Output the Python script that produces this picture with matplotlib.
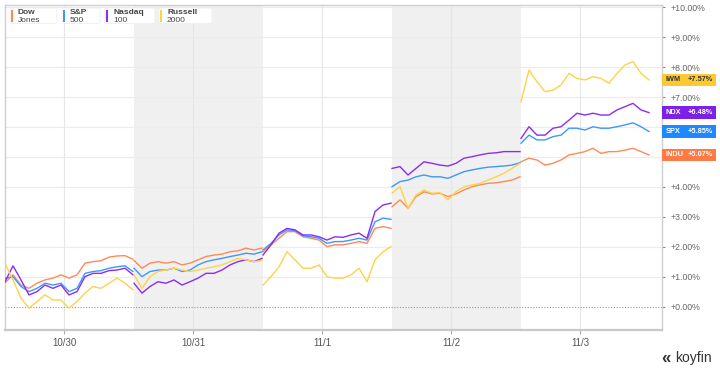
import matplotlib
matplotlib.use('Agg')
import matplotlib.pyplot as plt
from matplotlib.patches import Rectangle, FancyBboxPatch
from matplotlib import transforms
import numpy as np

plt.rcParams['font.family'] = ['Liberation Sans', 'DejaVu Sans']

# ---- data: % change, 17 readings per trading day ----
days = ['10/30', '10/31', '11/1', '11/2', '11/3']

dow = [
    [0.80, 1.07, 0.73, 0.62, 0.79, 0.90, 0.96, 1.07, 0.96, 1.07, 1.46, 1.51, 1.54, 1.66, 1.70, 1.71, 1.59],
    [1.55, 1.29, 1.46, 1.51, 1.46, 1.51, 1.40, 1.46, 1.57, 1.68, 1.73, 1.76, 1.84, 1.87, 1.96, 1.90, 1.96],
    [1.84, 2.07, 2.29, 2.51, 2.51, 2.34, 2.29, 2.23, 2.01, 2.07, 2.07, 2.12, 2.18, 2.12, 2.62, 2.68, 2.62],
    [3.34, 3.57, 3.29, 3.68, 3.84, 3.77, 3.79, 3.68, 3.77, 3.90, 4.01, 4.07, 4.12, 4.14, 4.18, 4.23, 4.34],
    [4.84, 4.96, 4.90, 4.73, 4.79, 4.90, 5.07, 5.12, 5.18, 5.29, 5.12, 5.18, 5.18, 5.23, 5.29, 5.18, 5.07],
]
spx = [
    [0.95, 1.01, 0.68, 0.51, 0.62, 0.79, 0.73, 0.79, 0.51, 0.62, 1.12, 1.18, 1.21, 1.29, 1.34, 1.37, 1.18],
    [1.29, 1.01, 1.18, 1.23, 1.23, 1.29, 1.18, 1.23, 1.40, 1.51, 1.57, 1.62, 1.68, 1.73, 1.79, 1.76, 1.84],
    [1.90, 2.12, 2.40, 2.57, 2.54, 2.37, 2.34, 2.29, 2.12, 2.18, 2.18, 2.23, 2.29, 2.23, 2.84, 2.96, 2.92],
    [4.01, 4.18, 4.23, 4.34, 4.40, 4.34, 4.34, 4.29, 4.40, 4.51, 4.57, 4.62, 4.66, 4.68, 4.70, 4.73, 4.81],
    [5.46, 5.73, 5.57, 5.57, 5.68, 5.73, 5.96, 5.96, 5.90, 6.01, 5.96, 5.96, 6.01, 6.07, 6.14, 6.01, 5.85],
]
ndx = [
    [0.84, 1.37, 0.90, 0.40, 0.51, 0.73, 0.62, 0.73, 0.40, 0.51, 1.01, 1.12, 1.12, 1.21, 1.23, 1.29, 1.07],
    [0.79, 0.46, 0.68, 0.84, 0.79, 0.90, 0.73, 0.84, 0.96, 1.12, 1.12, 1.23, 1.40, 1.51, 1.57, 1.51, 1.62],
    [1.73, 2.07, 2.46, 2.62, 2.57, 2.40, 2.40, 2.34, 2.23, 2.34, 2.32, 2.40, 2.46, 2.29, 3.18, 3.40, 3.46],
    [4.62, 4.68, 4.40, 4.62, 4.84, 4.79, 4.73, 4.70, 4.79, 4.96, 5.01, 5.07, 5.12, 5.14, 5.18, 5.18, 5.18],
    [5.62, 6.01, 5.73, 5.73, 5.96, 6.01, 6.23, 6.46, 6.40, 6.46, 6.40, 6.40, 6.57, 6.68, 6.79, 6.57, 6.48],
]
iwm = [
    [1.45, 0.90, 0.29, -0.04, 0.18, 0.40, 0.23, 0.23, -0.04, 0.18, 0.46, 0.68, 0.62, 0.79, 0.96, 0.79, 0.57],
    [1.07, 0.62, 1.01, 1.18, 1.23, 1.29, 1.23, 1.18, 1.23, 1.29, 1.34, 1.40, 1.51, 1.62, 1.57, 1.51, 1.55],
    [0.73, 1.01, 1.34, 1.84, 1.57, 1.29, 1.29, 1.40, 1.01, 0.96, 0.96, 1.07, 1.29, 0.84, 1.57, 1.84, 2.01],
    [3.79, 4.01, 3.29, 3.73, 3.90, 3.79, 3.81, 3.57, 3.84, 4.01, 4.07, 4.12, 4.23, 4.34, 4.46, 4.62, 4.79],
    [6.84, 7.90, 7.51, 7.18, 7.23, 7.40, 7.79, 7.62, 7.57, 7.68, 7.62, 7.46, 7.79, 8.07, 8.18, 7.79, 7.57],
]

series = [
    ('Dow\nJones', 'INDU', dow, '#ff8a55', '#ff7a45', 'white'),
    ('S&P\n500', 'SPX', spx, '#3d97ff', '#1e88ff', 'white'),
    ('Nasdaq\n100', 'NDX', ndx, '#8c2cf0', '#7c22e8', 'white'),
    ('Russell\n2000', 'IWM', iwm, '#fdd349', '#fbc934', '#333333'),
]

W, H = 720, 372
fig = plt.figure(figsize=(W / 100, H / 100), dpi=100)


def fx(px):
    return px / W


def fy(py):
    return 1 - py / H


ax = fig.add_axes([fx(5), fy(330), fx(662) - fx(5), fy(5) - fy(330)])

step = 8 / 129.0
slot = np.arange(17) * step

# alternate day shading
for d in (1, 3):
    ax.axvspan(d, d + 1, color='#f0f0f0', lw=0, zorder=0)

for name, tick, vals, lc, bc, tc in series:
    for d in range(len(days)):
        ax.plot(d + slot, vals[d], color=lc, lw=1.0, zorder=3)

ax.set_xlim(0, (662 - 5) / 129.0)
ax.set_ylim(-0.77, 10.07)

ax.set_yticks(range(0, 11))
ax.set_yticklabels(['+%.2f%%' % v for v in range(0, 11)])
ax.yaxis.tick_right()
ax.tick_params(axis='y', length=2, width=0.8, color='#888888', labelsize=6.3,
               labelcolor='#666666', pad=4)
ax.set_xticks([d + 59 / 129.0 for d in range(len(days))])
ax.set_xticklabels(days)
ax.tick_params(axis='x', length=3, width=0.8, color='#aaaaaa', labelsize=7,
               labelcolor='#555555', pad=3)

for v in range(1, 11):
    ax.axhline(v, color='#ececec', lw=0.8, zorder=1)
for d in range(len(days)):
    ax.axvline(d + 59 / 129.0, color='#e6e6e6', lw=0.8, zorder=1)
ax.axhline(0, color='#999999', lw=0.8, ls=(0, (1, 1.5)), zorder=2)

for s in ax.spines.values():
    s.set_color('#d0d0d0')
    s.set_linewidth(1.0)
ax.spines['bottom'].set_linewidth(1.6)
ax.spines['bottom'].set_color('#c8c8c8')

# last value labels on the right
blend = transforms.blended_transform_factory(ax.transAxes, ax.transData)
bw = 54 / 657.0
for name, tick, vals, lc, bc, tc in series:
    last = vals[-1][-1]
    ax.add_patch(Rectangle((1.0, last - 0.21), bw, 0.42, transform=blend,
                           facecolor=bc, edgecolor='none', clip_on=False, zorder=5))
    ax.text(1.0 + 4 / 657.0, last, tick, transform=blend, ha='left', va='center',
            fontsize=5.3, fontweight='bold', color=tc, zorder=6)
    ax.text(1.0 + 51 / 657.0, last, '+%.2f%%' % last, transform=blend, ha='right',
            va='center', fontsize=5.3, fontweight='bold', color=tc, zorder=6)

# legend boxes
boxes = [(10, 57), (62, 100), (105, 155), (159, 212)]
for (x0, x1), (name, tick, vals, lc, bc, tc) in zip(boxes, series):
    fig.patches.append(FancyBboxPatch((fx(x0), fy(23.5)), fx(x1) - fx(x0), fy(8) - fy(23.5),
                                      boxstyle='round,pad=0,rounding_size=0.004',
                                      transform=fig.transFigure, facecolor='white',
                                      edgecolor='#eeeeee', lw=0.6, zorder=10))
    fig.patches.append(Rectangle((fx(x0 + 1.3), fy(22)), fx(1.6), fy(10) - fy(22),
                                 transform=fig.transFigure, facecolor=lc,
                                 edgecolor='none', zorder=11))
    first, second = name.split('\n')
    fig.text(fx(x0 + 8), fy(12.3), first, fontsize=6, color='#444444', fontweight='bold',
             ha='left', va='center', zorder=12)
    fig.text(fx(x0 + 8), fy(20.7), second, fontsize=6, color='#444444',
             ha='left', va='center', zorder=12)

# brand mark
fig.text(fx(661), fy(358), '\u00ab', fontsize=12, color='#333333', fontweight='bold',
         ha='left', va='center')
fig.text(fx(675), fy(358), 'koyfin', fontsize=10, color='#333333', ha='left', va='center')

fig.savefig('out.png', dpi=100, facecolor='white')
